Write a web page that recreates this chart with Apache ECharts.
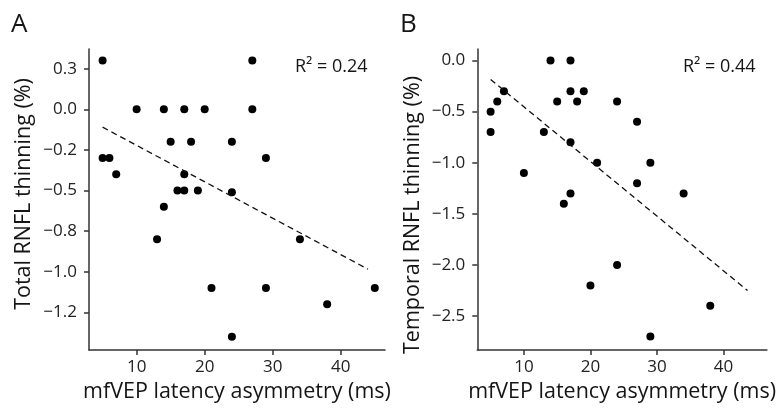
<!DOCTYPE html>
<html>
<head>
<meta charset="utf-8">
<script src="https://cdn.jsdelivr.net/npm/echarts@6/dist/echarts.min.js"></script>
<style>
html,body{margin:0;padding:0;background:#fff;}
#c{width:779px;height:408px;}
</style>
</head>
<body>
<div id="c"></div>
<script>
// Panel A: Total RNFL thinning vs mfVEP latency asymmetry
const pointsA = [
  [5,0.3],[27,0.3],
  [10,0],[14,0],[17,0],[20,0],[27,0],
  [15,-0.2],[18,-0.2],[24,-0.2],
  [5,-0.3],[6,-0.3],[29,-0.3],
  [7,-0.4],[17,-0.4],
  [16,-0.5],[17,-0.5],[19,-0.5],[24,-0.51],
  [14,-0.6],
  [13,-0.8],[34,-0.8],
  [21,-1.1],[29,-1.1],[45,-1.1],
  [38,-1.2],
  [24,-1.4]
];
const fitA = [[5,-0.11],[44,-0.984]];
const r2A = 'R\u00B2 = 0.24';

// Panel B: Temporal RNFL thinning vs mfVEP latency asymmetry
const pointsB = [
  [5,-0.5],[5,-0.7],[6,-0.4],[7,-0.3],
  [14,0],[17,0],[17,-0.3],[19,-0.3],
  [15,-0.4],[18,-0.4],[24,-0.4],
  [27,-0.6],[13,-0.7],[17,-0.8],
  [21,-1.0],[29,-1.0],[10,-1.1],[27,-1.2],
  [17,-1.3],[34,-1.3],[16,-1.4],
  [24,-2.0],[20,-2.2],[38,-2.4],[29,-2.7]
];
const fitB = [[5,-0.185],[43.6,-2.25]];
const r2B = 'R\u00B2 = 0.44';

const xTicks = [10,20,30,40];
const xTickLabels = ['10','20','30','40'];
const yTicksA = [0.25,0,-0.25,-0.5,-0.75,-1,-1.25];
const yTickLabelsA = ['0.3','0.0','\u22120.2','\u22120.5','\u22120.8','\u22121.0','\u22121.2'];
const yTicksB = [0,-0.5,-1,-1.5,-2,-2.5];
const yTickLabelsB = ['0.0','\u22120.5','\u22121.0','\u22121.5','\u22122.0','\u22122.5'];

const xTitle = 'mfVEP latency asymmetry (ms)';
const yTitleA = 'Total RNFL thinning (%)';
const yTitleB = 'Temporal RNFL thinning (%)';
const panelLabels = ['A','B'];

const FONT = '"Open Sans", "Noto Sans", sans-serif';
const AXC = '#333';
const TXT = '#151515';

function labelFor(ticks, labels){
  return function(v){
    for (let i=0;i<ticks.length;i++){ if (Math.abs(ticks[i]-v)<1e-6) return labels[i]; }
    return '';
  };
}
function xAxisDef(gi){
  return {
    type:'value', gridIndex:gi, min:3, max:46.5,
    name:xTitle, nameLocation:'middle', nameGap:29,
    nameTextStyle:{fontFamily:FONT,fontSize:21.5,color:TXT},
    axisLine:{show:true,onZero:false,lineStyle:{color:AXC,width:1.5}},
    axisTick:{show:true,length:5,lineStyle:{color:AXC,width:1.5},customValues:xTicks},
    axisLabel:{fontFamily:FONT,fontSize:17,color:'#222',margin:9,customValues:xTicks,formatter:labelFor(xTicks,xTickLabels)},
    splitLine:{show:false}
  };
}
function yAxisDef(gi,min,max,ticks,labels){
  return {
    type:'value', gridIndex:gi, min:min, max:max,
    axisLine:{show:true,onZero:false,lineStyle:{color:AXC,width:1.5}},
    axisTick:{show:true,length:5,lineStyle:{color:AXC,width:1.5},customValues:ticks},
    axisLabel:{fontFamily:FONT,fontSize:17,color:'#222',margin:12,customValues:ticks,formatter:labelFor(ticks,labels)},
    splitLine:{show:false}
  };
}

const chart = echarts.init(document.getElementById('c'), null, {renderer:'canvas'});
chart.setOption({
  animation:false,
  backgroundColor:'#fff',
  grid:[
    {left:89, top:49, width:296, bottom:54.3},
    {left:477.3, top:49, width:296, bottom:54.3}
  ],
  xAxis:[xAxisDef(0), xAxisDef(1)],
  yAxis:[
    yAxisDef(0,-1.482,0.371,yTicksA,yTickLabelsA),
    yAxisDef(1,-2.833,0.113,yTicksB,yTickLabelsB)
  ],
  graphic:[
    {type:'text',left:11,top:12,style:{text:panelLabels[0],font:'26px '+FONT,fill:TXT}},
    {type:'text',left:400,top:12,style:{text:panelLabels[1],font:'26px '+FONT,fill:TXT}},
    {type:'text',left:295,top:58,style:{text:r2A,font:'18px '+FONT,fill:TXT}},
    {type:'text',left:683,top:58,style:{text:r2B,font:'18px '+FONT,fill:TXT}},
    {type:'text',x:23.5,y:194,rotation:Math.PI/2,style:{text:yTitleA,font:'21.5px '+FONT,fill:TXT,align:'center',verticalAlign:'middle'}},
    {type:'text',x:413,y:215,rotation:Math.PI/2,style:{text:yTitleB,font:'21.5px '+FONT,fill:TXT,align:'center',verticalAlign:'middle'}}
  ],
  series:[
    {type:'scatter',xAxisIndex:0,yAxisIndex:0,data:pointsA,symbolSize:8,itemStyle:{color:'#000',opacity:1}},
    {type:'line',xAxisIndex:0,yAxisIndex:0,data:fitA,symbol:'none',lineStyle:{color:'#111',width:1.3,type:[6,4]}},
    {type:'scatter',xAxisIndex:1,yAxisIndex:1,data:pointsB,symbolSize:8,itemStyle:{color:'#000',opacity:1}},
    {type:'line',xAxisIndex:1,yAxisIndex:1,data:fitB,symbol:'none',lineStyle:{color:'#111',width:1.3,type:[6,4]}}
  ]
});
</script>
</body>
</html>
